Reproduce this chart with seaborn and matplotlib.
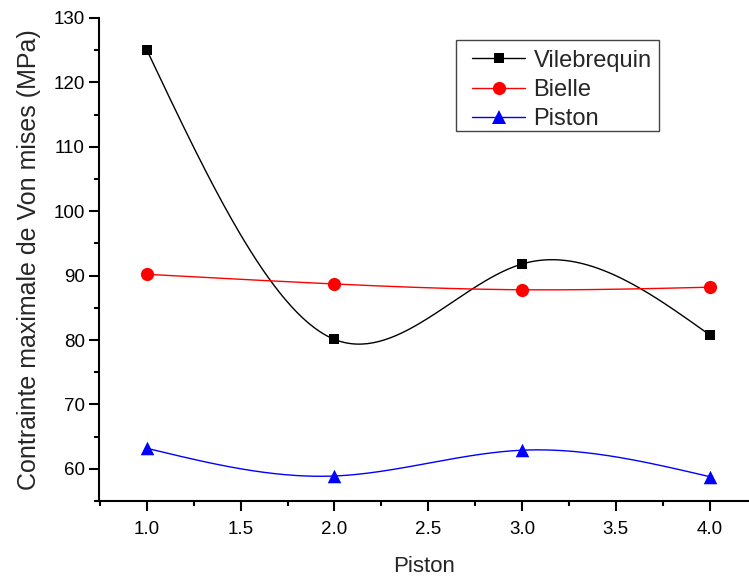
import numpy as np
import pandas as pd
import matplotlib
matplotlib.use("Agg")
import matplotlib.pyplot as plt
from matplotlib.lines import Line2D
from matplotlib.patches import Rectangle
from matplotlib.ticker import MultipleLocator
import seaborn as sns

pistons = [1.0, 2.0, 3.0, 4.0]
vilebrequin = [125.0, 80.1, 91.8, 80.8]
bielle = [90.2, 88.7, 87.8, 88.2]
piston_vals = [63.2, 58.9, 62.9, 58.8]

series_names = ["Vilebrequin", "Bielle", "Piston"]
series_vals = [vilebrequin, bielle, piston_vals]
colors = ["black", "red", "blue"]
markers = ["s", "o", "^"]
marker_sizes = [62, 90, 95]


def natural_spline(x, y, n=200):
    x = np.asarray(x, float)
    y = np.asarray(y, float)
    m = len(x)
    h = np.diff(x)
    A = np.zeros((m, m))
    b = np.zeros(m)
    A[0, 0] = 1
    A[-1, -1] = 1
    for i in range(1, m - 1):
        A[i, i - 1] = h[i - 1]
        A[i, i] = 2 * (h[i - 1] + h[i])
        A[i, i + 1] = h[i]
        b[i] = 6 * ((y[i + 1] - y[i]) / h[i] - (y[i] - y[i - 1]) / h[i - 1])
    M = np.linalg.solve(A, b)
    xs = np.linspace(x[0], x[-1], n)
    ys = np.empty_like(xs)
    for k, xv in enumerate(xs):
        i = min(np.searchsorted(x, xv, side="right") - 1, m - 2)
        t1 = x[i + 1] - xv
        t0 = xv - x[i]
        ys[k] = (M[i] * t1 ** 3 / (6 * h[i]) + M[i + 1] * t0 ** 3 / (6 * h[i])
                 + (y[i] / h[i] - M[i] * h[i] / 6) * t1
                 + (y[i + 1] / h[i] - M[i + 1] * h[i] / 6) * t0)
    return xs, ys


sns.set_style("ticks")
plt.rcParams["font.family"] = ["Liberation Sans", "DejaVu Sans"]

fig = plt.figure(figsize=(7.49, 5.76), dpi=100)
ax = fig.add_axes([0.132, 0.130, 0.868, 0.839])

handles = []
for name, vals, c, mk, ms in zip(series_names, series_vals, colors, markers, marker_sizes):
    xs, ys = natural_spline(pistons, vals)
    sns.lineplot(x=xs, y=ys, ax=ax, color=c, lw=1.0, sort=False)
    sns.scatterplot(x=pistons, y=vals, ax=ax, color=c, marker=mk, s=ms,
                    edgecolor=c, linewidth=0, zorder=5)
    handles.append(Line2D([0], [0], color=c, lw=1.0, marker=mk,
                          markersize=np.sqrt(ms), markeredgewidth=0, label=name))

ax.set_xlim(0.744, 4.21)
ax.set_ylim(55, 130)
ax.xaxis.set_minor_locator(MultipleLocator(0.25))
ax.yaxis.set_major_locator(MultipleLocator(10))
ax.yaxis.set_minor_locator(MultipleLocator(5))
ax.set_xticks([1.0, 1.5, 2.0, 2.5, 3.0, 3.5, 4.0])
ax.set_xticklabels(["1.0", "1.5", "2.0", "2.5", "3.0", "3.5", "4.0"])
ax.tick_params(which="major", direction="out", length=7, width=1.5,
               labelsize=13.5, color="black", labelcolor="black")
ax.tick_params(axis="x", which="major", pad=7)
ax.tick_params(axis="y", which="major", pad=3)
ax.tick_params(which="minor", direction="out", length=3.5, width=1.5,
               color="black")
for s in ["top", "right"]:
    ax.spines[s].set_visible(False)
for s in ["left", "bottom"]:
    ax.spines[s].set_linewidth(1.5)
    ax.spines[s].set_color("black")

ax.set_xlabel("Piston", fontsize=16, labelpad=13)
ax.set_ylabel("Contrainte maximale de Von mises (MPa)", fontsize=18, labelpad=9)

# legend frame (drawn separately for exact padding)
ax.add_patch(Rectangle((0.549, 0.766), 0.3125, 0.1885, transform=ax.transAxes,
                       facecolor="white", edgecolor="#444444", linewidth=1.0,
                       zorder=9))
leg = ax.legend(handles=handles, loc="upper left",
                bbox_to_anchor=(0.574, 0.934), borderaxespad=0, fontsize=17,
                frameon=False, handlelength=2.25, handletextpad=0.35,
                labelspacing=0.3, borderpad=0)
leg.set_zorder(10)

fig.savefig("out.png", dpi=100)
